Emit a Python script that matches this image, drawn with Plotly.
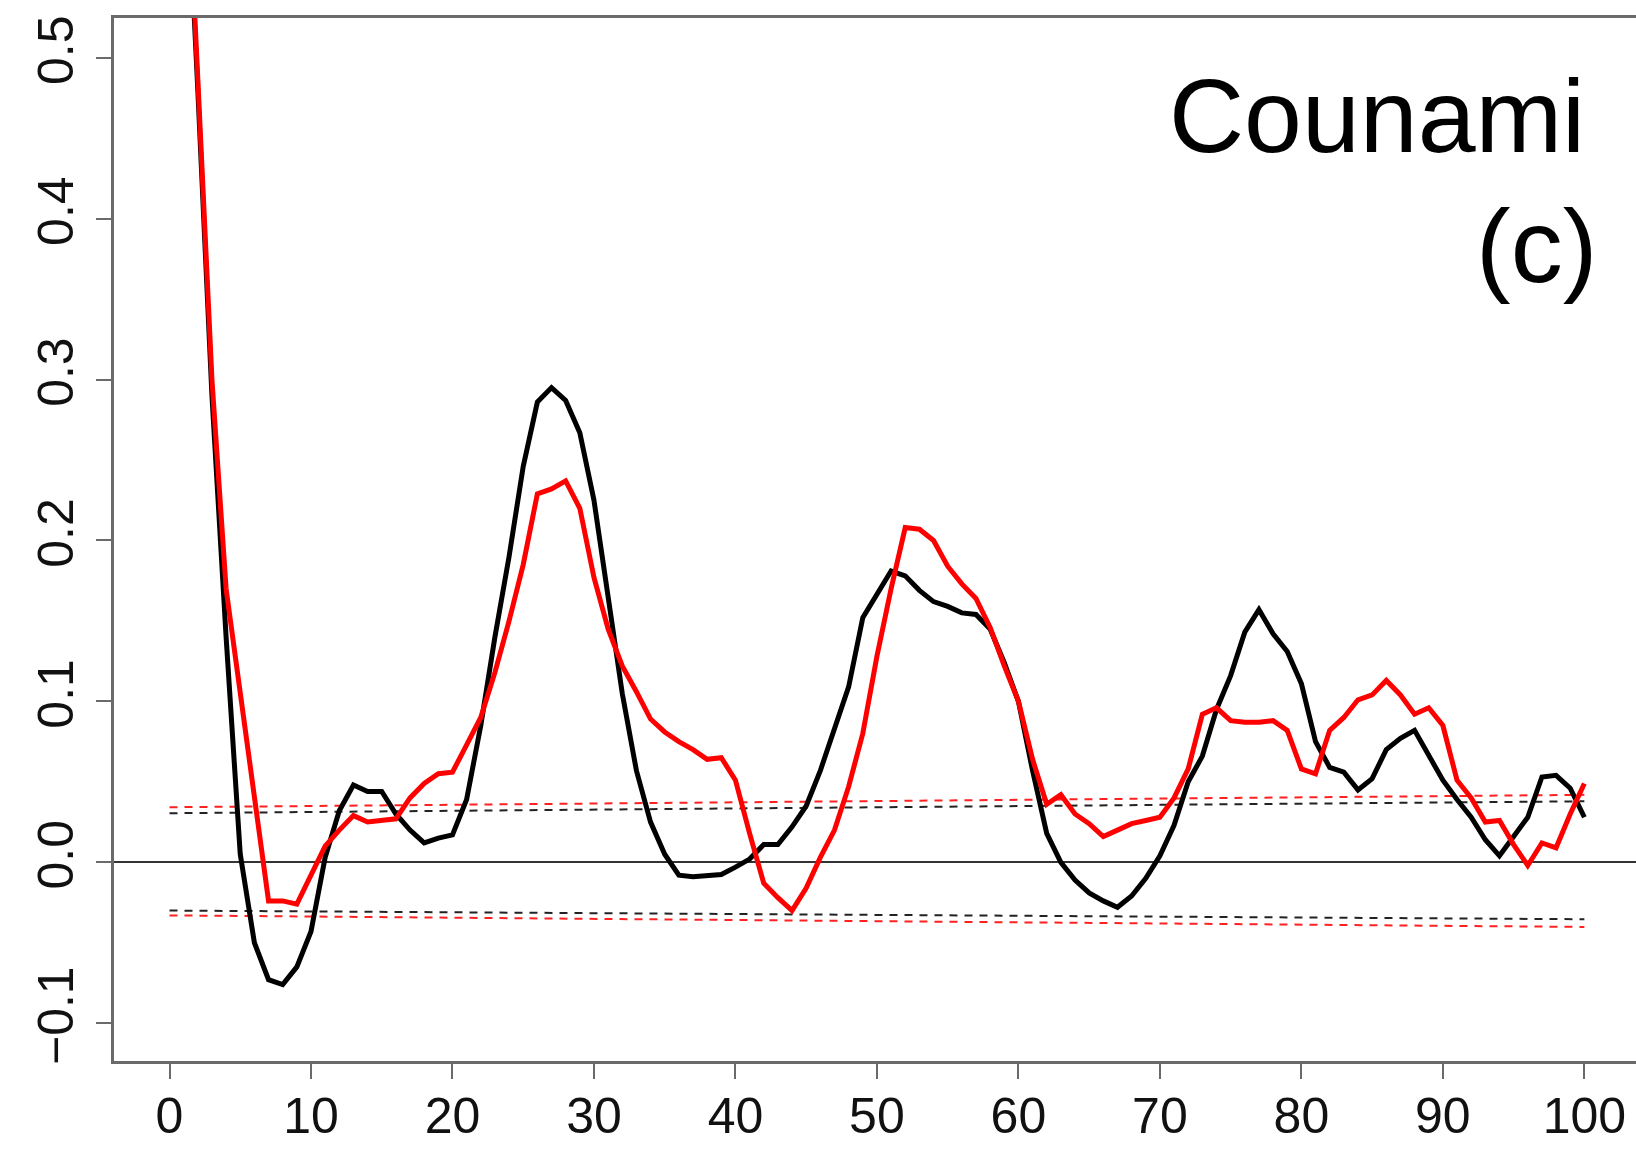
import plotly.graph_objects as go

# Autocorrelation by lag for the two Counami series
lags = list(range(0, 101))

acf_black = [
    1.0, 0.66, 0.48, 0.29, 0.14, 0.005, -0.05, -0.073, -0.076, -0.065,
    -0.043, 0.003, 0.032, 0.048, 0.044, 0.044, 0.03, 0.02, 0.012, 0.015,
    0.017, 0.039, 0.085, 0.14, 0.19, 0.246, 0.286, 0.295, 0.287, 0.267,
    0.225, 0.166, 0.105, 0.057, 0.025, 0.005, -0.008, -0.009, -0.008, -0.0076,
    -0.003, 0.002, 0.011, 0.011, 0.022, 0.035, 0.057, 0.083, 0.109, 0.152,
    0.166, 0.181, 0.178, 0.169, 0.162, 0.159, 0.155, 0.154, 0.145, 0.124,
    0.1, 0.057, 0.018, 0.0, -0.011, -0.019, -0.024, -0.028, -0.021, -0.01,
    0.004, 0.023, 0.05, 0.066, 0.095, 0.116, 0.143, 0.157, 0.142, 0.131,
    0.111, 0.075, 0.059, 0.056, 0.045, 0.052, 0.07, 0.077, 0.082, 0.067,
    0.051, 0.039, 0.028, 0.014, 0.004, 0.016, 0.028, 0.053, 0.054, 0.046,
    0.028,
]

acf_red = [
    1.0, 0.67, 0.487, 0.30, 0.17, 0.105, 0.04, -0.024, -0.024, -0.026,
    -0.008, 0.01, 0.02, 0.029, 0.025, 0.026, 0.027, 0.04, 0.049, 0.055,
    0.056, 0.073, 0.09, 0.118, 0.15, 0.185, 0.229, 0.232, 0.237, 0.22,
    0.177, 0.145, 0.122, 0.106, 0.089, 0.081, 0.075, 0.07, 0.064, 0.065,
    0.051, 0.018, -0.013, -0.022, -0.03, -0.016, 0.003, 0.02, 0.047, 0.08,
    0.128, 0.17, 0.208, 0.207, 0.2, 0.184, 0.173, 0.164, 0.146, 0.122,
    0.1, 0.064, 0.036, 0.042, 0.03, 0.024, 0.016, 0.02, 0.024, 0.026,
    0.028, 0.04, 0.058, 0.092, 0.096, 0.088, 0.087, 0.087, 0.088, 0.082,
    0.058, 0.055, 0.082, 0.09, 0.101, 0.104, 0.113, 0.104, 0.092, 0.096,
    0.085, 0.051, 0.04, 0.025, 0.026, 0.011, -0.002, 0.012, 0.009, 0.03,
    0.049,
]

# Confidence bounds (start and end lag)
band_lags = [0, 100]
band_black_upper = [0.0305, 0.0379]
band_black_lower = [-0.0300, -0.0354]
band_red_upper = [0.0342, 0.0419]
band_red_lower = [-0.0330, -0.0402]

x_ticks = [0, 10, 20, 30, 40, 50, 60, 70, 80, 90, 100]
y_ticks = [-0.1, 0.0, 0.1, 0.2, 0.3, 0.4, 0.5]

FONT = "Liberation Sans, Arial, Helvetica, sans-serif"
AXIS_GREY = "#6a6a6a"

fig = go.Figure()

for vals, col in [
    (band_black_upper, "#222222"),
    (band_black_lower, "#222222"),
    (band_red_upper, "#ff2020"),
    (band_red_lower, "#ff2020"),
]:
    fig.add_trace(go.Scatter(
        x=band_lags, y=vals, mode="lines",
        line=dict(color=col, width=2, dash="8px,7px"),
        showlegend=False, hoverinfo="skip",
    ))

fig.add_trace(go.Scatter(
    x=lags, y=acf_black, mode="lines",
    line=dict(color="#000000", width=5),
    showlegend=False,
))
fig.add_trace(go.Scatter(
    x=lags, y=acf_red, mode="lines",
    line=dict(color="#ff0000", width=5),
    showlegend=False,
))

fig.add_annotation(
    text="Counami", xref="paper", yref="paper",
    x=0.968, y=0.906, xanchor="right", yanchor="middle",
    showarrow=False, font=dict(family=FONT, size=104, color="#000000"),
)
fig.add_annotation(
    text="(c)", xref="paper", yref="paper",
    x=0.976, y=0.781, xanchor="right", yanchor="middle",
    showarrow=False, font=dict(family=FONT, size=104, color="#000000"),
)

fig.update_layout(
    width=1636, height=1150,
    margin=dict(l=114, r=0, t=18, b=89),
    paper_bgcolor="white", plot_bgcolor="white",
    font=dict(family=FONT, color="#111111"),
    showlegend=False,
)

fig.update_xaxes(
    range=[-3.923, 103.65],
    tickvals=x_ticks, ticktext=[str(v) for v in x_ticks],
    ticks="outside", ticklen=15, tickwidth=2, tickcolor=AXIS_GREY,
    showline=True, linecolor=AXIS_GREY, linewidth=2.5, mirror=True,
    showgrid=False, zeroline=False,
    ticklabelstandoff=-6,
    tickfont=dict(family=FONT, size=50, color="#111111"),
)
fig.update_yaxes(
    range=[-0.1235, 0.5247],
    tickvals=y_ticks, tickformat=".1f",
    ticks="outside", ticklen=15, tickwidth=2, tickcolor=AXIS_GREY,
    showline=True, linecolor=AXIS_GREY, linewidth=2.5, mirror=False,
    showgrid=False,
    zeroline=True, zerolinecolor="#333333", zerolinewidth=2,
    tickangle=-90, ticklabelstandoff=3,
    tickfont=dict(family=FONT, size=50, color="#111111"),
)

fig.write_html("out.html")
